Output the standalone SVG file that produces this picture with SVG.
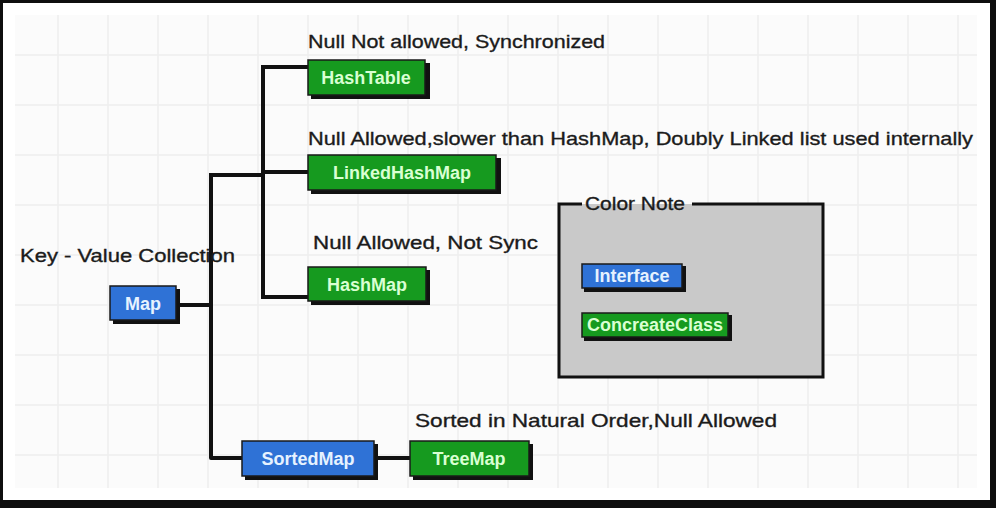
<svg xmlns="http://www.w3.org/2000/svg" width="996" height="508" viewBox="0 0 996 508">
<defs>
<style>
.lbl{font-family:"Liberation Sans","DejaVu Sans",sans-serif;font-size:19px;fill:#1b1b1b;stroke:#1b1b1b;stroke-width:0.35;}
.nt{font-family:"Liberation Sans","DejaVu Sans",sans-serif;font-size:18px;font-weight:bold;text-anchor:middle;}
.g{fill:#169a1f;stroke:#1a1a1a;stroke-width:1.5;}
.b{fill:#2f72d6;stroke:#1a1a1a;stroke-width:1.5;}
.sh{fill:#111;}
.gt{fill:#d9ffd2;}
.bt{fill:#e6f2ff;}
.grid{stroke:#eeeeee;stroke-width:1.5;fill:none;}
.conn{stroke:#111;stroke-width:4;fill:none;stroke-linejoin:round;stroke-linecap:square;}
</style>
</defs>
<rect x="0" y="0" width="996" height="508" fill="#0e0e0e"/>
<rect x="3" y="3" width="987" height="497" fill="#ffffff"/>
<rect x="15" y="15" width="962" height="473" fill="#fbfbfb"/>
<path class="grid" d="M58 15V488M108 15V488M158 15V488M208 15V488M258 15V488M308 15V488M358 15V488M408 15V488M458 15V488M508 15V488M558 15V488M608 15V488M658 15V488M708 15V488M758 15V488M808 15V488M858 15V488M908 15V488M958 15V488M15 55H977M15 105H977M15 155H977M15 205H977M15 255H977M15 305H977M15 355H977M15 405H977M15 455H977"/>

<g id="connectors">
<path class="conn" d="M177 305H211"/>
<path class="conn" d="M211 175V458H242"/>
<path class="conn" d="M211 175H263"/>
<path class="conn" d="M263 67V297"/>
<path class="conn" d="M263 67H308"/>
<path class="conn" d="M263 172H308"/>
<path class="conn" d="M263 297H308"/>
<path class="conn" d="M376 458H410"/>
</g>

<g id="labels">
<text class="lbl" x="308" y="48" textLength="297" lengthAdjust="spacingAndGlyphs">Null Not allowed, Synchronized</text>
<text class="lbl" x="308" y="145" textLength="665" lengthAdjust="spacingAndGlyphs">Null Allowed,slower than HashMap, Doubly Linked list used internally</text>
<text class="lbl" x="313" y="249" textLength="225" lengthAdjust="spacingAndGlyphs">Null Allowed, Not Sync</text>
<text class="lbl" x="20" y="262" textLength="215" lengthAdjust="spacingAndGlyphs">Key - Value Collection</text>
<text class="lbl" x="415" y="427" textLength="362" lengthAdjust="spacingAndGlyphs">Sorted in Natural Order,Null Allowed</text>
</g>

<g id="HashTable">
<rect class="sh" x="311" y="63" width="119" height="36"/>
<rect class="g" x="308" y="60" width="117" height="35"/>
<text class="nt gt" x="366" y="84">HashTable</text>
</g>
<g id="LinkedHashMap">
<rect class="sh" x="311" y="158" width="190" height="36"/>
<rect class="g" x="308" y="155" width="188" height="35"/>
<text class="nt gt" x="402" y="179">LinkedHashMap</text>
</g>
<g id="HashMap">
<rect class="sh" x="311" y="270" width="119" height="35"/>
<rect class="g" x="308" y="267" width="118" height="34"/>
<text class="nt gt" x="367" y="291">HashMap</text>
</g>
<g id="Map">
<rect class="sh" x="113" y="289" width="67" height="35"/>
<rect class="b" x="110" y="286" width="66" height="34"/>
<text class="nt bt" x="143" y="310">Map</text>
</g>
<g id="SortedMap">
<rect class="sh" x="245" y="444" width="133" height="36"/>
<rect class="b" x="242" y="441" width="132" height="35"/>
<text class="nt bt" x="308" y="465">SortedMap</text>
</g>
<g id="TreeMap">
<rect class="sh" x="413" y="444" width="120" height="36"/>
<rect class="g" x="410" y="441" width="119" height="35"/>
<text class="nt gt" x="469" y="465">TreeMap</text>
</g>

<g id="ColorNote">
<rect x="559" y="204" width="264" height="173" fill="#c9c9c9"/>
<path d="M582 204H559V377H823V204H692" fill="none" stroke="#111" stroke-width="3"/>
<text class="lbl" x="585" y="210" textLength="100" lengthAdjust="spacingAndGlyphs">Color Note</text>
<rect class="sh" x="584" y="266" width="102" height="26"/>
<rect class="b" x="582" y="264" width="100" height="24" stroke-width="1"/>
<text class="nt bt" x="632" y="282" font-size="17">Interface</text>
<rect class="sh" x="584" y="315" width="148" height="26"/>
<rect class="g" x="582" y="313" width="146" height="24" stroke-width="1"/>
<text class="nt gt" x="655" y="331" font-size="17">ConcreateClass</text>
</g>
</svg>
